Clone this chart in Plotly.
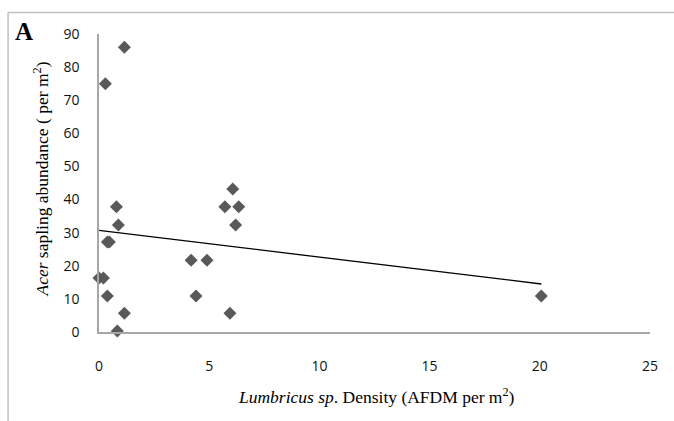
import numpy as np
import plotly.graph_objects as go

# Data
lumbricus_density = [1.15, 0.29, 0.0, 0.2, 0.38, 0.47, 0.79, 0.88, 0.38, 1.15, 0.83,
                     4.18, 4.9, 4.4, 5.71, 6.07, 6.34, 6.2, 5.94, 20.07]
acer_abundance = [86, 75, 16.3, 16.3, 27.2, 27.2, 37.8, 32.3, 10.9, 5.7, 0.3,
                  21.7, 21.7, 10.9, 37.8, 43.2, 37.8, 32.3, 5.7, 10.9]
x_ticks = [0, 5, 10, 15, 20, 25]
y_ticks = [0, 10, 20, 30, 40, 50, 60, 70, 80, 90]

slope, intercept = np.polyfit(lumbricus_density, acer_abundance, 1)
trend_x = [min(lumbricus_density), max(lumbricus_density)]
trend_y = [intercept + slope * v for v in trend_x]

fig = go.Figure()
fig.add_trace(go.Scatter(x=trend_x, y=trend_y, mode="lines",
                         line=dict(color="black", width=1.3), showlegend=False,
                         cliponaxis=False))
fig.add_trace(go.Scatter(x=lumbricus_density, y=acer_abundance, mode="markers",
                         marker=dict(symbol="diamond", size=10, color="#595959"),
                         showlegend=False, cliponaxis=False))

L, R, T, B = 98.5, 24, 34, 89
W, H = 674, 421
pw, ph = W - L - R, H - T - B

def px_to_paper_x(px):
    return (px - L) / pw

def px_to_paper_y(py):
    return (H - B - py) / ph

frame_color = "#bfbfbf"
fx = px_to_paper_x(7.5)
fy = px_to_paper_y(12.5)
fig.add_shape(type="line", xref="paper", yref="paper", x0=fx, x1=fx,
              y0=px_to_paper_y(430), y1=fy, line=dict(color=frame_color, width=1.5))
fig.add_shape(type="line", xref="paper", yref="paper", x0=fx, x1=px_to_paper_x(680),
              y0=fy, y1=fy, line=dict(color=frame_color, width=1.5))

serif = "Liberation Serif, Times New Roman, serif"
fig.add_annotation(text="<b>A</b>", xref="paper", yref="paper",
                   x=px_to_paper_x(23), y=px_to_paper_y(31), showarrow=False,
                   xanchor="center", yanchor="middle",
                   font=dict(family=serif, size=25, color="black"))
fig.add_annotation(text="<i>Acer</i> sapling abundance ( per m<sup>2</sup>)",
                   xref="paper", yref="paper", x=px_to_paper_x(40), y=px_to_paper_y(179),
                   xanchor="center", yanchor="middle",
                   textangle=-90, showarrow=False,
                   font=dict(family=serif, size=17.5, color="black"))
fig.add_annotation(text="<i>Lumbricus sp</i>. Density (AFDM per m<sup>2</sup>)",
                   xref="paper", yref="paper", x=px_to_paper_x(376), y=px_to_paper_y(396),
                   xanchor="center", yanchor="middle",
                   showarrow=False,
                   font=dict(family=serif, size=17.5, color="black"))

tickfont = dict(family="Open Sans, Liberation Sans, sans-serif", size=14, color="#111")
fig.update_xaxes(range=[0, 25], tickvals=x_ticks, showgrid=False, zeroline=False,
                 showline=True, linecolor="#a6a6a6", linewidth=1.5, ticks="",
                 tickfont=tickfont, ticklabelstandoff=20)
fig.update_yaxes(range=[0, 90], tickvals=y_ticks, showgrid=False, zeroline=False,
                 showline=True, linecolor="#a6a6a6", linewidth=1.5, ticks="",
                 tickfont=tickfont, ticklabelstandoff=15)
fig.update_layout(width=W, height=H, margin=dict(l=L, r=R, t=T, b=B),
                  plot_bgcolor="white", paper_bgcolor="white")
fig.write_html("out.html")
